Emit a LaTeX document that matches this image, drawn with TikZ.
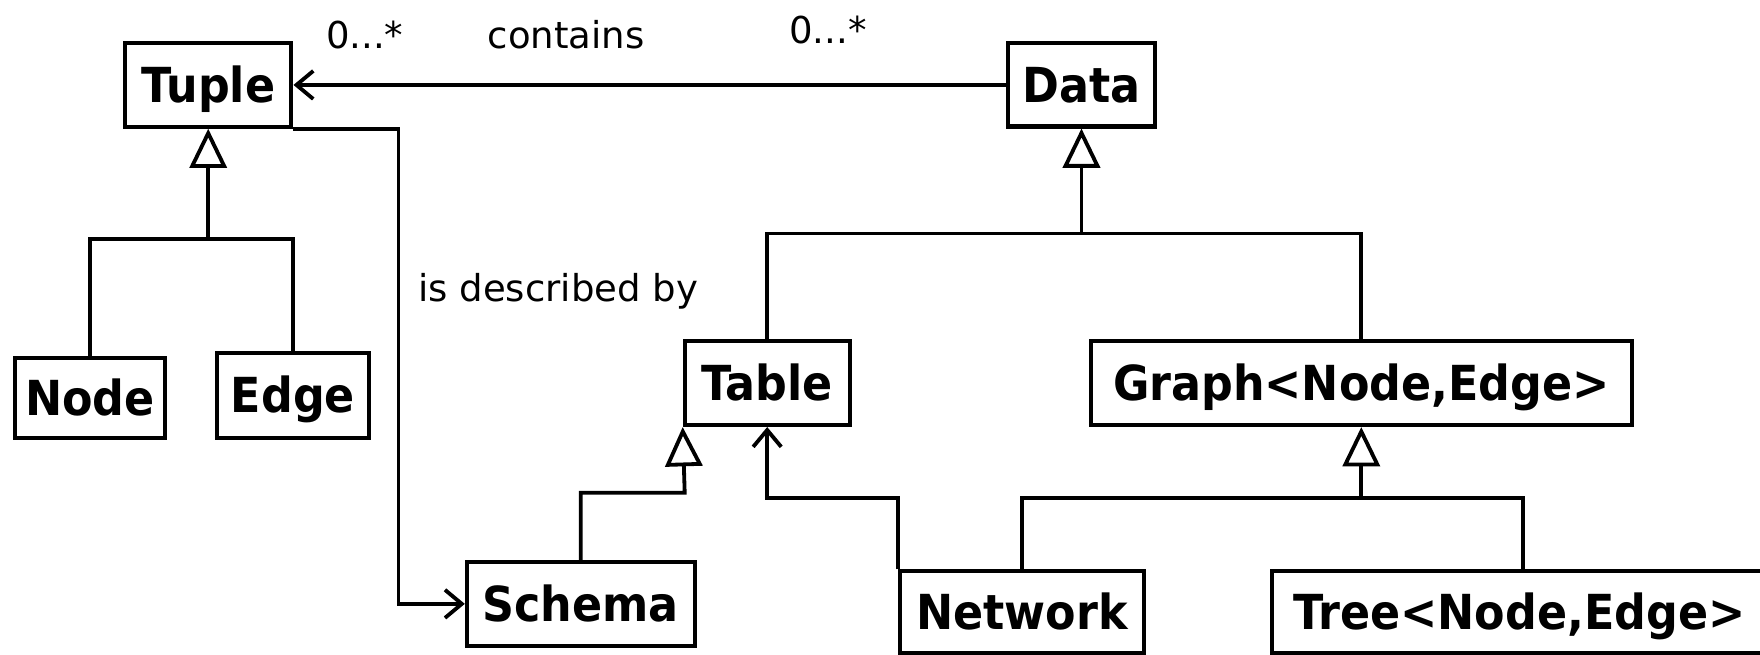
\documentclass[tikz,border=0pt]{standalone}
\usepackage{fontspec}
\setmainfont{DejaVu Sans}
\newfontfamily\boxfont[FakeStretch=0.92]{DejaVu Sans}
\usetikzlibrary{arrows.meta}
\begin{document}
\begin{tikzpicture}[x=1pt,y=-1pt,line width=3.4pt,
  cls/.style={draw,line width=3.6pt,inner sep=0pt,text height=31.3pt,text depth=0pt,
    font=\boxfont\bfseries\fontsize{43}{50}\selectfont},
  lbl/.style={inner sep=0pt,font=\fontsize{33}{40}\selectfont},
  gen/.style={-{Triangle[open,length=35pt,width=33pt]}},
  assoc/.style={-{Straight Barb[length=15pt,width=25pt]}}]
\useasboundingbox (0,0) rectangle (1568,583);
% classes
\node[cls,minimum width=148.3pt,minimum height=74.3pt] (tuple) at (185.5,75.7) {Tuple};
\node[cls,minimum width=131pt,minimum height=74pt] (data) at (963.5,75.7) {Data};
\node[cls,minimum width=134pt,minimum height=71.3pt] (node) at (80,354.3) {Node};
\node[cls,minimum width=136pt,minimum height=75.5pt] (edge) at (261,352.2) {Edge};
\node[cls,minimum width=147pt,minimum height=74.7pt] (table) at (683.5,341.3) {Table};
\node[cls,minimum width=482.3pt,minimum height=74.7pt] (graph) at (1212.8,341.3) {Graph<Node,Edge>};
\node[cls,minimum width=203pt,minimum height=75pt] (schema) at (517.4,538) {Schema};
\node[cls,minimum width=218pt,minimum height=72.5pt] (network) at (910.5,545.2) {Network};
\node[cls,minimum width=441pt,minimum height=72.5pt] (tree) at (1353.5,545.2) {Tree<Node,Edge>};
% labels
\node[lbl,anchor=base] (m1) at (325,43) {0...*};
\node[lbl,anchor=base] (lc) at (504.5,43) {contains};
\node[lbl,anchor=base] (m2) at (737.5,38.6) {0...*};
\node[lbl,anchor=base west] (ld) at (371,268.8) {is described by};
% junctions
\coordinate (tj) at (185.5,213);
\coordinate (dj) at (963.5,208);
\coordinate (gj) at (1212.8,443.5);
\coordinate (sj) at (610,439);
\coordinate (nj) at (683.5,443.5);
\coordinate (tsc) at (355,538);
\coordinate (treetop) at (1357,509);
% contains
\draw[assoc] (data.west) -- (tuple.east);
% generalizations
\draw (node.north) |- (tj) -| (edge.north);
\draw[gen] (tj) -- (tuple.south);
\draw (table.north) |- (dj) -| (graph.north);
\draw[gen] (dj) -- (data.south);
\draw (network.north) |- (gj) -| (treetop);
\draw[gen] (gj) -- (graph.south);
\draw[gen] (schema.north) |- (sj) -- (table.south west);
% associations
\draw[assoc] (network.north west) |- (nj) -- (table.south);
\draw[assoc] (tuple.south east) -| (tsc) -- (schema.west);
\end{tikzpicture}
\end{document}
